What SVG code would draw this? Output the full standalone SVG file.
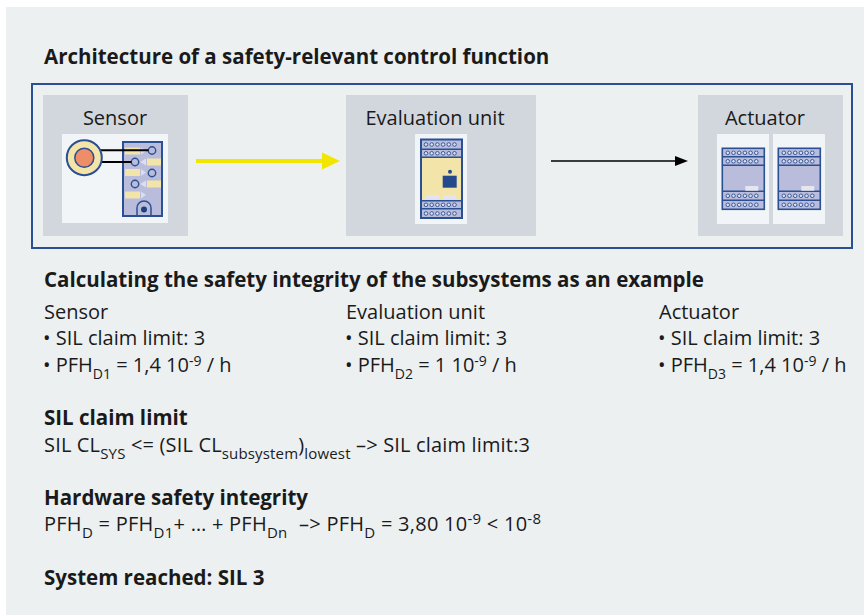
<svg xmlns="http://www.w3.org/2000/svg" width="864" height="615" viewBox="0 0 864 615">
  <style>
    .t { font-family: "Open Sans", "Noto Sans", "Liberation Sans", sans-serif; font-size: 20px; fill: #1a1a1a; }
    .b { font-family: "Open Sans", "Noto Sans", "Liberation Sans", sans-serif; font-size: 20.5px; font-weight: bold; fill: #1a1a1a; }
    .lbl { font-family: "Open Sans", "Noto Sans", "Liberation Sans", sans-serif; font-size: 20px; fill: #1a1a1a; text-anchor: middle; }
    .s { font-size: 15px; }
    .u { font-size: 14px; }
    .panel { fill: #d1d7dd; }
    .white { fill: #f2f5f7; }
    .term { fill: #dde0ef; stroke: #2a4f92; stroke-width: 0.9; }
    .bar { fill: #f3e4a9; }
    .tri { fill: #dcdded; }
    .pin { fill: #b9bcdb; stroke: #2a4f92; stroke-width: 1.4; }
  </style>
  <defs>
    <!-- one row of six screw terminals -->
    <g id="row6">
      <circle cx="0" cy="0" r="1.8" class="term"/>
      <circle cx="5.7" cy="0" r="1.8" class="term"/>
      <circle cx="11.4" cy="0" r="1.8" class="term"/>
      <circle cx="17.1" cy="0" r="1.8" class="term"/>
      <circle cx="22.8" cy="0" r="1.8" class="term"/>
      <circle cx="28.5" cy="0" r="1.8" class="term"/>
    </g>
    <!-- relay module used for the actuator -->
    <g id="relay">
      <rect x="0" y="0" width="42" height="61" fill="#b9bcdb" stroke="#2a4f92" stroke-width="1.6"/>
      <line x1="0" y1="8.5" x2="42" y2="8.5" stroke="#2a4f92" stroke-width="1.4"/>
      <line x1="0" y1="17" x2="42" y2="17" stroke="#2a4f92" stroke-width="1.4"/>
      <line x1="0" y1="43" x2="42" y2="43" stroke="#2a4f92" stroke-width="1.4"/>
      <line x1="0" y1="52" x2="42" y2="52" stroke="#2a4f92" stroke-width="1.4"/>
      <use href="#row6" x="5.5" y="4.5"/>
      <use href="#row6" x="5.5" y="13"/>
      <use href="#row6" x="5.5" y="47.5"/>
      <use href="#row6" x="5.5" y="56.5"/>
      <rect x="23" y="37.7" width="13" height="4.7" fill="#e6e6f0"/>
    </g>
  </defs>

  <!-- background -->
  <rect x="6" y="7" width="858" height="608" fill="#ecf0f1"/>

  <text class="b" x="44" y="64">Architecture of a safety-relevant control function</text>

  <!-- frame around the control chain -->
  <rect x="32" y="84" width="820" height="164" fill="none" stroke="#2a4f92" stroke-width="2"/>

  <!-- connectors -->
  <g id="connectors">
    <line x1="196" y1="161" x2="324" y2="161" stroke="#f2e500" stroke-width="4"/>
    <polygon points="322,152.5 340,161 322,169.5" fill="#f2e500"/>
    <line x1="551" y1="161" x2="678" y2="161" stroke="#000" stroke-width="1.5"/>
    <polygon points="675,156 688,161 675,166" fill="#000"/>
  </g>

  <!-- sensor -->
  <g id="sensor">
    <rect class="panel" x="43" y="95" width="145" height="141"/>
    <text class="lbl" x="115" y="125">Sensor</text>
    <rect class="white" x="62" y="134" width="106" height="89"/>
    <rect x="123" y="142" width="39" height="74" fill="#b9bcdb" stroke="#2a4f92" stroke-width="2"/>
    <!-- connector strips -->
    <rect class="bar" x="125" y="147.5" width="15" height="7"/>
    <rect class="bar" x="147" y="158.5" width="14" height="7"/>
    <rect class="bar" x="125" y="169" width="15" height="7"/>
    <rect class="bar" x="147" y="180.5" width="14" height="7"/>
    <rect class="bar" x="125" y="191.5" width="15" height="7"/>
    <polygon class="tri" points="141,147.5 146,151 141,154.5"/>
    <polygon class="tri" points="146,158.5 140,162 146,165.5"/>
    <polygon class="tri" points="141,169 146,172.5 141,176"/>
    <polygon class="tri" points="146,180.5 140,184 146,187.5"/>
    <polygon class="tri" points="141,191.5 146,195 141,198.5"/>
    <circle class="pin" cx="152" cy="150.5" r="3.7"/>
    <circle class="pin" cx="135" cy="162" r="3.7"/>
    <circle class="pin" cx="152" cy="173" r="3.7"/>
    <circle class="pin" cx="135" cy="184" r="3.7"/>
    <path d="M137,216 V208 A7,7 0 0 1 151,208 V216" fill="none" stroke="#2a4f92" stroke-width="1.5"/>
    <circle cx="144" cy="209.5" r="3" fill="#1f3f80"/>
    <!-- sensing head and its wires -->
    <line x1="100" y1="150.3" x2="148.5" y2="150.3" stroke="#000" stroke-width="2"/>
    <line x1="100" y1="162" x2="131.5" y2="162" stroke="#000" stroke-width="2"/>
    <circle cx="84.3" cy="157.7" r="17.5" fill="#f3e4a9" stroke="#2a4f92" stroke-width="2"/>
    <circle cx="84.3" cy="157.7" r="9.5" fill="#ee8e68" stroke="#2a4f92" stroke-width="1.5"/>
  </g>

  <!-- evaluation unit -->
  <g id="evaluation-unit">
    <rect class="panel" x="346" y="95" width="190" height="141"/>
    <text class="lbl" x="435" y="125">Evaluation unit</text>
    <rect class="white" x="415" y="134" width="52" height="90"/>
    <rect x="421" y="139.5" width="41" height="78.5" fill="#b9bcdb" stroke="#2a4f92" stroke-width="2"/>
    <rect x="422" y="157.3" width="39" height="43.5" fill="#f3e4a9"/>
    <line x1="421" y1="149.2" x2="462" y2="149.2" stroke="#2a4f92" stroke-width="1.6"/>
    <line x1="421" y1="157.3" x2="462" y2="157.3" stroke="#2a4f92" stroke-width="1.6"/>
    <line x1="421" y1="200.8" x2="462" y2="200.8" stroke="#2a4f92" stroke-width="1.6"/>
    <line x1="421" y1="208.8" x2="462" y2="208.8" stroke="#2a4f92" stroke-width="1.6"/>
    <use href="#row6" x="426" y="144.5"/>
    <use href="#row6" x="426" y="153.3"/>
    <use href="#row6" x="426" y="204.8"/>
    <use href="#row6" x="426" y="213.5"/>
    <rect x="442.7" y="175.7" width="14" height="12" fill="#244a8c"/>
    <circle cx="450" cy="171.7" r="2" fill="#244a8c"/>
    <rect x="426" y="195" width="13" height="4" fill="#e3e4ef"/>
    <rect x="443" y="195" width="13" height="4" fill="#e3e4ef"/>
  </g>

  <!-- actuator -->
  <g id="actuator">
    <rect class="panel" x="698" y="95" width="145" height="141"/>
    <text class="lbl" x="765" y="125">Actuator</text>
    <rect class="white" x="717" y="134" width="52" height="90"/>
    <rect class="white" x="773" y="134" width="52" height="90"/>
    <use href="#relay" x="722.3" y="148.3"/>
    <use href="#relay" x="778.3" y="148.3"/>
  </g>

  <!-- calculation -->
  <text class="b" x="44" y="287">Calculating the safety integrity of the subsystems as an example</text>

  <g id="sensor-values">
    <text class="t" x="44" y="319">Sensor</text>
    <text class="t" x="43" y="345">• SIL claim limit: 3</text>
    <text class="t" x="43" y="372">• PFH<tspan class="u" dy="7">D1</tspan><tspan dy="-7"> = 1,4 10</tspan><tspan class="u" dy="-6">-9</tspan><tspan dy="6"> / h</tspan></text>
  </g>
  <g id="evaluation-values">
    <text class="t" x="346" y="319">Evaluation unit</text>
    <text class="t" x="345" y="345">• SIL claim limit: 3</text>
    <text class="t" x="345" y="372">• PFH<tspan class="u" dy="7">D2</tspan><tspan dy="-7"> = 1 10</tspan><tspan class="u" dy="-6">-9</tspan><tspan dy="6"> / h</tspan></text>
  </g>
  <g id="actuator-values">
    <text class="t" x="659" y="319">Actuator</text>
    <text class="t" x="658" y="345">• SIL claim limit: 3</text>
    <text class="t" x="658" y="372">• PFH<tspan class="u" dy="7">D3</tspan><tspan dy="-7"> = 1,4 10</tspan><tspan class="u" dy="-6">-9</tspan><tspan dy="6"> / h</tspan></text>
  </g>

  <text class="b" x="44" y="425">SIL claim limit</text>
  <text class="t" x="44" y="452" textLength="486" lengthAdjust="spacing">SIL CL<tspan class="s" dy="7">SYS</tspan><tspan dy="-7"> &lt;= (SIL CL</tspan><tspan class="s" dy="7">subsystem</tspan><tspan dy="-7">)</tspan><tspan class="s" dy="7">lowest</tspan><tspan dy="-7"> –&gt; SIL claim limit:3</tspan></text>

  <text class="b" x="44" y="505">Hardware safety integrity</text>
  <text class="t" x="44" y="531" textLength="497" lengthAdjust="spacing">PFH<tspan class="s" dy="7">D</tspan><tspan dy="-7"> = PFH</tspan><tspan class="s" dy="7">D1</tspan><tspan dy="-7">+ … + PFH</tspan><tspan class="s" dy="7">Dn</tspan><tspan dy="-7" dx="6"> –&gt; PFH</tspan><tspan class="s" dy="7">D</tspan><tspan dy="-7"> = 3,80 10</tspan><tspan class="s" dy="-7">-9</tspan><tspan dy="7"> &lt; 10</tspan><tspan class="s" dy="-7">-8</tspan></text>

  <text class="b" x="44" y="585">System reached: SIL 3</text>
</svg>
